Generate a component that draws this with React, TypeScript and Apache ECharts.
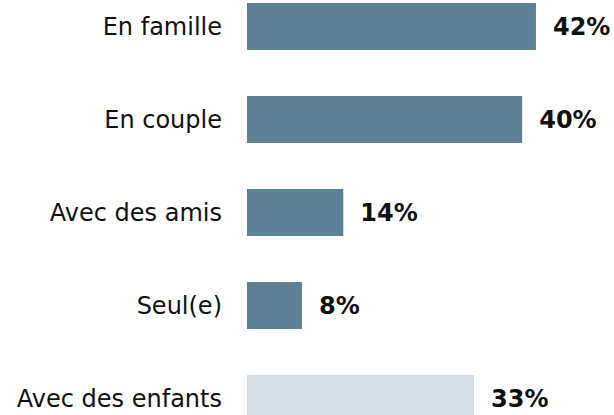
import React, { useEffect, useRef } from "react";
import * as echarts from "echarts";

const categories = ["En famille", "En couple", "Avec des amis", "Seul(e)", "Avec des enfants"];
const values = [42, 40, 14, 8, 33];
const barColors = ["#5E8196", "#5E8196", "#5E8196", "#5E8196", "#D6DEE5"];

export default function App() {
  const ref = useRef<HTMLDivElement>(null);
  useEffect(() => {
    if (!ref.current) return;
    const chart = echarts.init(ref.current, undefined, { renderer: "svg" });
    chart.setOption({
      animation: false,
      grid: { left: 247, top: 0, width: 344, height: 465, containLabel: false },
      xAxis: {
        type: "value",
        min: 0,
        max: 50,
        show: false,
      },
      yAxis: {
        type: "category",
        data: categories,
        inverse: true,
        axisLine: { show: false },
        axisTick: { show: false },
        splitLine: { show: false },
        axisLabel: {
          fontSize: 24,
          fontFamily: "DejaVu Sans",
          color: "#111111",
          margin: 25,
        },
      },
      series: [
        {
          type: "bar",
          barWidth: 47,
          data: values.map((v, i) => ({ value: v, itemStyle: { color: barColors[i] } })),
          label: {
            show: true,
            position: "right",
            distance: 17,
            formatter: "{c}%",
            fontSize: 24,
            fontWeight: "bold",
            fontFamily: "DejaVu Sans",
            color: "#111111",
          },
        },
      ],
    });
    return () => chart.dispose();
  }, []);
  return (
    <div
      ref={ref}
      style={{ position: "fixed", left: 0, top: -20, width: 614, height: 470, background: "#ffffff" }}
    />
  );
}
